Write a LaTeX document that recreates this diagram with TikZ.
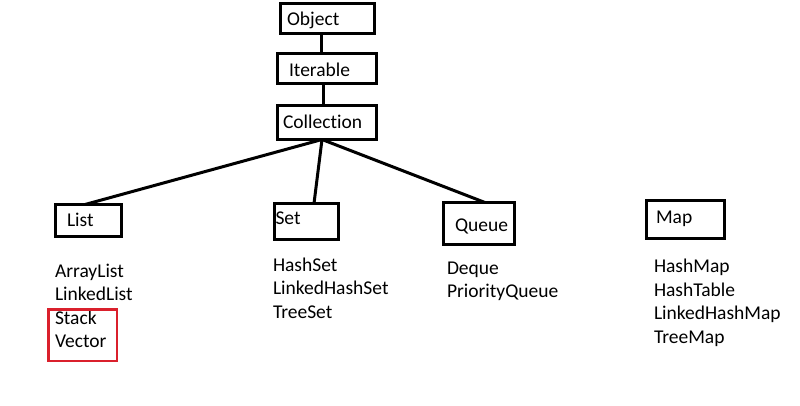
\documentclass[tikz,border=0pt]{standalone}
\usepackage{fontspec}
\setmainfont{Carlito}[Ligatures={NoCommon,NoRare}]
\definecolor{hlred}{RGB}{218,32,44}

\begin{document}
\begin{tikzpicture}[x=1pt,y=-1pt,every node/.style={outer sep=0pt},
    font=\fontsize{19.5}{23.5}\selectfont,
    cls/.style={draw,line width=3pt,align=left,inner ysep=0pt,text depth=0pt},
    item/.style={anchor=base west,inner sep=0pt},
    link/.style={line width=3pt}]
    \useasboundingbox (0,0) rectangle (800,405);

     \node[cls,minimum height=30pt,inner xsep=6.5pt,text width=81pt,
     text height=13pt] (obj) at (327.5,18.5) {Object};
     \node[cls,minimum height=30pt,inner xsep=11.5pt,text width=76pt,
     text height=15pt] (iter) at (327,68.5) {Iterable};
     \node[cls,minimum height=34pt,inner xsep=5.5pt,text width=88pt,
     text height=11pt] (coll) at (327,122.5) {Collection};

     \node[cls,minimum height=32pt,inner xsep=11.5pt,text width=43pt,
     text height=11pt] (list) at (88.5,220.5) {List};
     \node[cls,minimum height=36pt,inner xsep=1pt,text width=62pt,
     text height=5pt] (set) at (306.5,221.5) {Set};
     \node[cls,minimum height=42pt,inner xsep=11.5pt,text width=48pt,
     text height=15pt] (queue) at (479,223.5) {Queue};
     \node[cls,minimum height=38pt,inner xsep=9.5pt,text width=59pt,
     text height=7pt] (map) at (685.5,219.5) {Map};

     \draw[link] ([xshift=-6.5pt]obj.south) -- ([xshift=-6pt]iter.north);
     \draw[link] ([xshift=-4pt]iter.south) -- ([xshift=-4pt]coll.north);
    \foreach \N/\S in {list/-3.5,set/7.5,queue/6}
    {
        \draw[link] ([xshift=-5pt]coll.south) -- ([xshift=\S pt]\N.north);
    }

    \foreach \T [count=\i] in {ArrayList,LinkedList,Stack,Vector}
        \node[item] (l\i) at (55,253.5+23.5*\i) {\T};
    \foreach \T [count=\i] in {HashSet,LinkedHashSet,TreeSet}
        \node[item] (s\i) at (273,247.5+23.5*\i) {\T};
    \foreach \T [count=\i] in {Deque,PriorityQueue}
        \node[item] (q\i) at (447,250.5+23.5*\i) {\T};
    \foreach \T [count=\i] in {HashMap,HashTable,LinkedHashMap,TreeMap}
        \node[item] (m\i) at (654,249.5+23.4*\i) {\T};

    \draw[hlred,line width=2.5pt] (48.25,309.25) rectangle (116.75,360.75);
   \end{tikzpicture}
\end{document}
